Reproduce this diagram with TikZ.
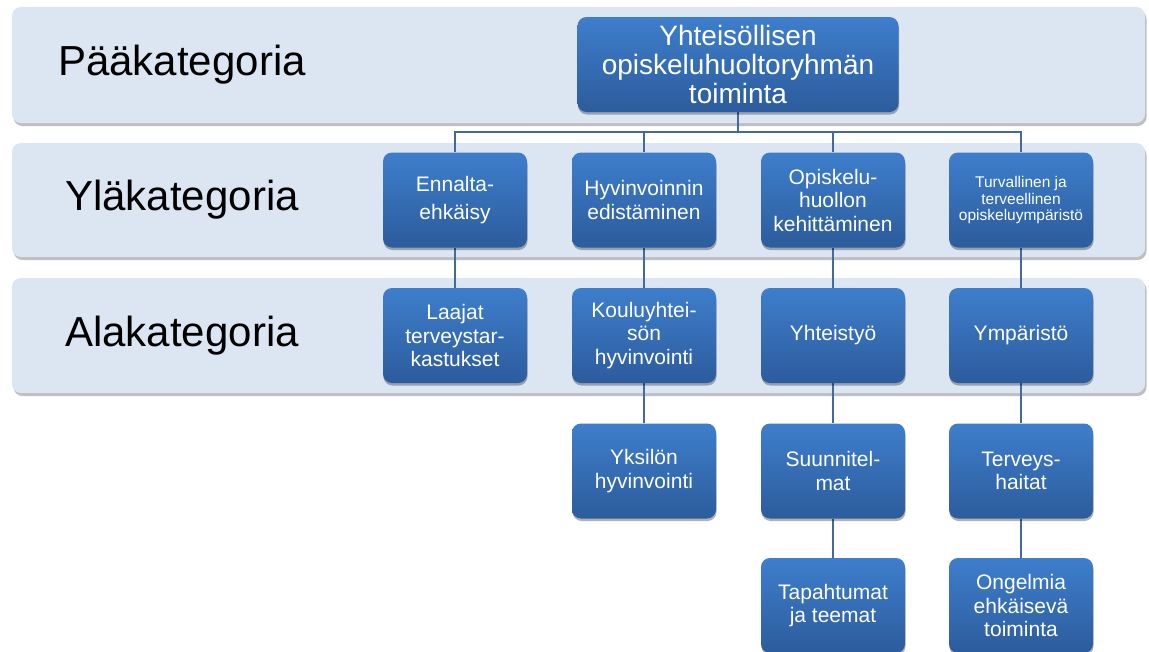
\documentclass[tikz,border=0pt]{standalone}
\usepackage{fontspec}
\setmainfont{Liberation Sans}
\usetikzlibrary{shadows,calc}
\definecolor{bandfill}{RGB}{220,230,242}
\definecolor{boxtop}{RGB}{62,126,204}
\definecolor{boxbot}{RGB}{44,92,156}
\definecolor{linecol}{RGB}{66,106,156}
\pgfdeclarelayer{bandlayer}
\pgfdeclarelayer{linelayer}
\pgfsetlayers{bandlayer,linelayer,main}
\tikzset{
  band/.style={draw=none, fill=bandfill, rounded corners=9pt, drop shadow={shadow xshift=1.5pt, shadow yshift=-3pt, fill=black, opacity=0.25}},
  catlabel/.style={font=\fontsize{42}{46}\selectfont, text=black, anchor=center, inner sep=0pt},
  catbox/.style={rectangle, rounded corners=9pt, minimum width=144pt, minimum height=95pt, top color=boxtop, bottom color=boxbot, draw=none, text=white, align=center, font=\fontsize{21}{23.5}\selectfont, inner sep=2pt, drop shadow={shadow xshift=0.5pt, shadow yshift=-2.5pt, fill=black, opacity=0.3}},
  topbox/.style={catbox, minimum width=321pt, font=\fontsize{28}{28.8}\selectfont},
  link/.style={draw=linecol, line width=1.8pt}
}
\begin{document}
\begin{tikzpicture}[x=1pt,y=-1pt]
\clip (0,0) rectangle (1149,651);
\begin{pgfonlayer}{bandlayer}
\fill[white] (0,0) rectangle (1149,651);
\path[band] (12,7) rectangle (1145,123);
\path[band] (12,143) rectangle (1145,257);
\path[band] (12,278) rectangle (1145,393);
\end{pgfonlayer}
\node[catlabel] (L1) at (182,65) {Pääkategoria};
\node[catlabel] (L2) at (182,200) {Yläkategoria};
\node[catlabel] (L3) at (182,336) {Alakategoria};
% nodes
\node[topbox] (top) at (738,64.5) {Yhteisöllisen\\opiskeluhuoltoryhmän\\toiminta};
\node[catbox] (b1) at (455,200) {Ennalta-\\[4pt]ehkäisy};
\node[catbox] (b2) at (644,200) {Hyvinvoinnin\\edistäminen};
\node[catbox] (b3) at (833,200) {Opiskelu-\\huollon\\kehittäminen};
\node[catbox, font=\fontsize{15.5}{16.5}\selectfont] (b4) at (1021,200) {Turvallinen ja\\terveellinen\\opiskeluympäristö};
\node[catbox] (c1) at (455,335.5) {Laajat\\terveystar-\\kastukset};
\node[catbox] (c2) at (644,335.5) {Kouluyhtei-\\sön\\hyvinvointi};
\node[catbox] (c3) at (833,335.5) {Yhteistyö};
\node[catbox] (c4) at (1021,335.5) {Ympäristö};
\node[catbox] (d2) at (644,471) {Yksilön\\hyvinvointi};
\node[catbox] (d3) at (833,471) {Suunnitel-\\mat};
\node[catbox] (d4) at (1021,471) {Terveys-\\haitat};
\node[catbox] (e3) at (833,605.5) {Tapahtumat\\ja teemat};
\node[catbox] (e4) at (1021,605.5) {Ongelmia\\ehkäisevä\\toiminta};
\coordinate (bus) at (738,132);
\begin{pgfonlayer}{linelayer}
\draw[link] (top.south) -- (bus);
\draw[link] (bus) -| (b1.north);
\draw[link] (bus) -| (b2.north);
\draw[link] (bus) -| (b3.north);
\draw[link] (bus) -| (b4.north);
\draw[link] (b1) -- (c1);
\draw[link] (b2) -- (c2);
\draw[link] (b3) -- (c3);
\draw[link] (b4) -- (c4);
\draw[link] (c2) -- (d2);
\draw[link] (c3) -- (d3);
\draw[link] (c4) -- (d4);
\draw[link] (d3) -- (e3);
\draw[link] (d4) -- (e4);
\end{pgfonlayer}
\end{tikzpicture}
\end{document}
